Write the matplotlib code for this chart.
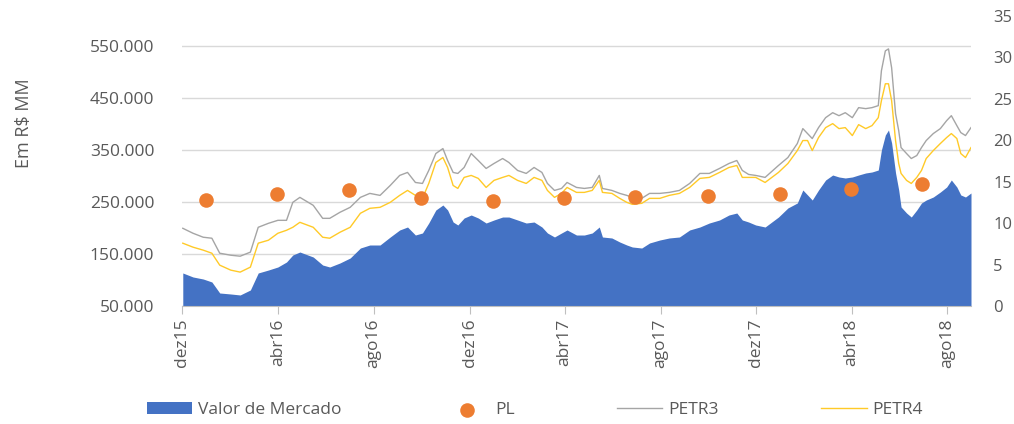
import matplotlib
matplotlib.use("Agg")
import matplotlib.pyplot as plt
from matplotlib.ticker import FuncFormatter
import pandas as pd

plt.rcParams['font.family'] = ['Open Sans', 'DejaVu Sans']

# sample dates
dates = ["2015-12-02", "2015-12-15", "2015-12-28", "2016-01-08", "2016-01-18", "2016-02-01",
         "2016-02-13", "2016-02-26", "2016-03-07", "2016-03-20", "2016-04-01", "2016-04-12",
         "2016-04-20", "2016-04-29", "2016-05-16", "2016-05-28", "2016-06-06", "2016-06-19",
         "2016-07-02", "2016-07-15", "2016-07-27", "2016-08-09", "2016-08-22", "2016-09-03",
         "2016-09-13", "2016-09-23", "2016-10-02", "2016-10-10", "2016-10-19", "2016-10-28",
         "2016-11-03", "2016-11-10", "2016-11-16", "2016-11-24", "2016-12-03", "2016-12-12",
         "2016-12-22", "2017-01-01", "2017-01-12", "2017-01-20", "2017-01-31", "2017-02-11",
         "2017-02-21", "2017-03-03", "2017-03-10", "2017-03-19", "2017-03-28", "2017-04-04",
         "2017-04-16", "2017-04-26", "2017-05-06", "2017-05-15", "2017-05-19", "2017-05-31",
         "2017-06-10", "2017-06-19", "2017-06-26", "2017-07-08", "2017-07-18", "2017-07-31",
         "2017-08-12", "2017-08-25", "2017-09-07", "2017-09-20", "2017-10-02", "2017-10-15",
         "2017-10-27", "2017-11-06", "2017-11-13", "2017-11-21", "2017-11-30", "2017-12-12",
         "2017-12-29", "2018-01-10", "2018-01-22", "2018-01-29", "2018-02-04", "2018-02-10",
         "2018-02-18", "2018-02-27", "2018-03-08", "2018-03-16", "2018-03-24", "2018-04-02",
         "2018-04-10", "2018-04-19", "2018-04-27", "2018-05-05", "2018-05-09", "2018-05-14",
         "2018-05-18", "2018-05-22", "2018-05-27", "2018-05-31", "2018-06-03", "2018-06-10",
         "2018-06-16", "2018-06-23", "2018-06-29", "2018-07-05", "2018-07-14", "2018-07-23",
         "2018-07-31", "2018-08-06", "2018-08-13", "2018-08-18", "2018-08-24", "2018-08-31"]

# Valor de Mercado, R$ MM
valor = [113500, 105800, 101900, 96200, 75000, 73100, 71200, 80800, 113500, 119200, 125000, 134600,
         148100, 153800, 144200, 128800, 125000, 132700, 142300, 161500, 167300, 167300, 182700, 196200,
         201900, 186500, 190400, 209600, 234600, 244200, 234600, 211500, 205800, 219200, 225000, 219200,
         209600, 215400, 221100, 221100, 215400, 209600, 211500, 201900, 190400, 182700, 190400, 196200,
         186500, 186500, 190400, 201900, 182700, 180800, 173100, 167300, 163500, 161500, 171200, 176900,
         180800, 182700, 196200, 201900, 209600, 215400, 225000, 228800, 215400, 211500, 205800, 201900,
         221100, 238500, 248100, 273100, 263500, 253800, 273100, 292300, 301900, 298100, 296200, 298100,
         301900, 305800, 307700, 311500, 350000, 378800, 388500, 363500, 305800, 273100, 240400, 228800,
         221100, 234600, 248100, 253800, 259600, 269200, 278800, 292300, 278800, 263500, 259600, 267300]

petr3 = [9.38, 8.78, 8.30, 8.18, 6.37, 6.13, 6.01, 6.50, 9.50, 9.98, 10.34, 10.34,
         12.51, 13.11, 12.15, 10.58, 10.58, 11.31, 11.91, 13.11, 13.59, 13.35, 14.55, 15.76,
         16.12, 14.91, 14.79, 16.36, 18.40, 19.00, 17.56, 16.12, 16.00, 16.72, 18.40, 17.56,
         16.60, 17.20, 17.80, 17.32, 16.36, 16.00, 16.72, 16.12, 14.79, 13.95, 14.19, 14.91,
         14.31, 14.19, 14.31, 15.76, 14.19, 13.95, 13.59, 13.35, 13.11, 12.99, 13.59, 13.59,
         13.71, 13.95, 14.79, 16.00, 16.00, 16.60, 17.20, 17.56, 16.36, 15.88, 15.76, 15.52,
         16.96, 17.92, 19.61, 21.41, 20.81, 20.21, 21.53, 22.73, 23.33, 22.97, 23.33, 22.73,
         23.94, 23.82, 23.94, 24.18, 28.39, 30.79, 31.03, 28.75, 23.21, 21.17, 19.12, 18.40,
         17.80, 18.16, 19.12, 19.97, 20.81, 21.41, 22.37, 22.97, 21.77, 20.93, 20.57, 21.53]

petr4 = [7.58, 7.10, 6.74, 6.37, 4.93, 4.33, 4.09, 4.69, 7.58, 7.94, 8.78, 9.14,
         9.50, 10.10, 9.50, 8.30, 8.18, 8.90, 9.50, 11.19, 11.79, 11.91, 12.51, 13.35,
         13.95, 13.35, 12.99, 14.79, 17.32, 17.92, 16.72, 14.55, 14.19, 15.52, 15.76, 15.40,
         14.31, 15.16, 15.52, 15.76, 15.16, 14.79, 15.52, 15.16, 13.95, 13.11, 13.59, 14.31,
         13.71, 13.71, 13.95, 15.16, 13.71, 13.59, 12.99, 12.51, 12.27, 12.39, 12.99, 12.99,
         13.35, 13.59, 14.31, 15.40, 15.52, 16.12, 16.72, 16.96, 15.52, 15.52, 15.52, 14.91,
         16.12, 17.20, 18.76, 19.97, 19.97, 18.76, 20.33, 21.53, 22.01, 21.41, 21.53, 20.57,
         21.89, 21.41, 21.77, 22.73, 24.78, 26.82, 26.82, 24.78, 19.97, 17.20, 16.00, 15.16,
         14.79, 15.52, 16.36, 17.80, 18.76, 19.61, 20.33, 20.81, 20.21, 18.40, 17.92, 19.12]

# PL (patrimonio liquido), quarterly, R$ MM
pl_dates = ["2015-12-31", "2016-03-31", "2016-06-30", "2016-09-30", "2016-12-31", "2017-03-31",
            "2017-06-30", "2017-09-30", "2017-12-31", "2018-03-31", "2018-06-30"]
pl = [253800, 265000, 273000, 257700, 252000, 257700, 259600, 261500, 265000, 275000, 284600]

tick_dates = ["2015-12-01", "2016-04-01", "2016-08-01", "2016-12-01", "2017-04-01",
              "2017-08-01", "2017-12-01", "2018-04-01", "2018-08-01"]
tick_labels = ["dez15", "abr16", "ago16", "dez16", "abr17", "ago17", "dez17", "abr18", "ago18"]

dates = pd.to_datetime(dates)
pl_dates = pd.to_datetime(pl_dates)
tick_dates = pd.to_datetime(tick_dates)

txt = '#595959'
fig = plt.figure(figsize=(10.14, 4.24), dpi=100)
ax = fig.add_axes([182 / 1014, 1 - 306 / 424, 789 / 1014, 290 / 424])
ax2 = ax.twinx()

ax.fill_between(dates, valor, 50000, color='#4472C4', linewidth=0, label='Valor de Mercado')
ax.set_ylim(50000, 607700)
ax.set_yticks(range(50000, 550001, 100000))
ax.yaxis.set_major_formatter(FuncFormatter(lambda v, p: f"{v:,.0f}".replace(",", ".")))
ax.grid(axis='y', color='#D9D9D9', linewidth=1)
ax.set_axisbelow(True)

ax2.plot(dates, petr3, color='#A5A5A5', linewidth=1.0, label='PETR3', zorder=2)
ax2.plot(dates, petr4, color='#FFCA28', linewidth=1.0, label='PETR4', zorder=3)
ax2.scatter(pl_dates, pl, s=110, color='#ED7D31', transform=ax.transData, zorder=4,
            linewidths=0, label='PL')
ax2.set_ylim(0, 35)
ax2.set_yticks(range(0, 36, 5))

ax.set_xlim(pd.Timestamp("2015-12-01"), pd.Timestamp("2018-08-31"))
ax.set_xticks(tick_dates)
ax.set_xticklabels(tick_labels, rotation=90)

for a in (ax, ax2):
    for s in a.spines.values():
        s.set_visible(False)
    a.tick_params(axis='y', length=0, labelsize=12.5, labelcolor=txt)
ax2.spines['bottom'].set_visible(True)
ax2.spines['bottom'].set_color('#BFBFBF')
ax.tick_params(axis='y', pad=20)
ax2.tick_params(axis='y', pad=16, labelsize=12)
ax.tick_params(axis='x', length=6, color='#BFBFBF', labelsize=12.5, labelcolor=txt, pad=3)

fig.text(24 / 1014, 1 - 123 / 424, "Em R$ MM", rotation=90, ha='center', va='center',
         fontsize=13, color=txt)

h1, l1 = ax.get_legend_handles_labels()
h2, l2 = ax2.get_legend_handles_labels()
handles = {l: h for h, l in zip(h1 + h2, l1 + l2)}
order = ['Valor de Mercado', 'PL', 'PETR3', 'PETR4']
fig.legend([handles[k] for k in order], order, loc='center', ncol=4,
           bbox_to_anchor=(535 / 1014, 1 - 410 / 424), frameon=False, fontsize=12.5,
           handlelength=2.6, columnspacing=5.9, handletextpad=0.35, labelcolor=txt)

fig.savefig("out.png", dpi=100)
